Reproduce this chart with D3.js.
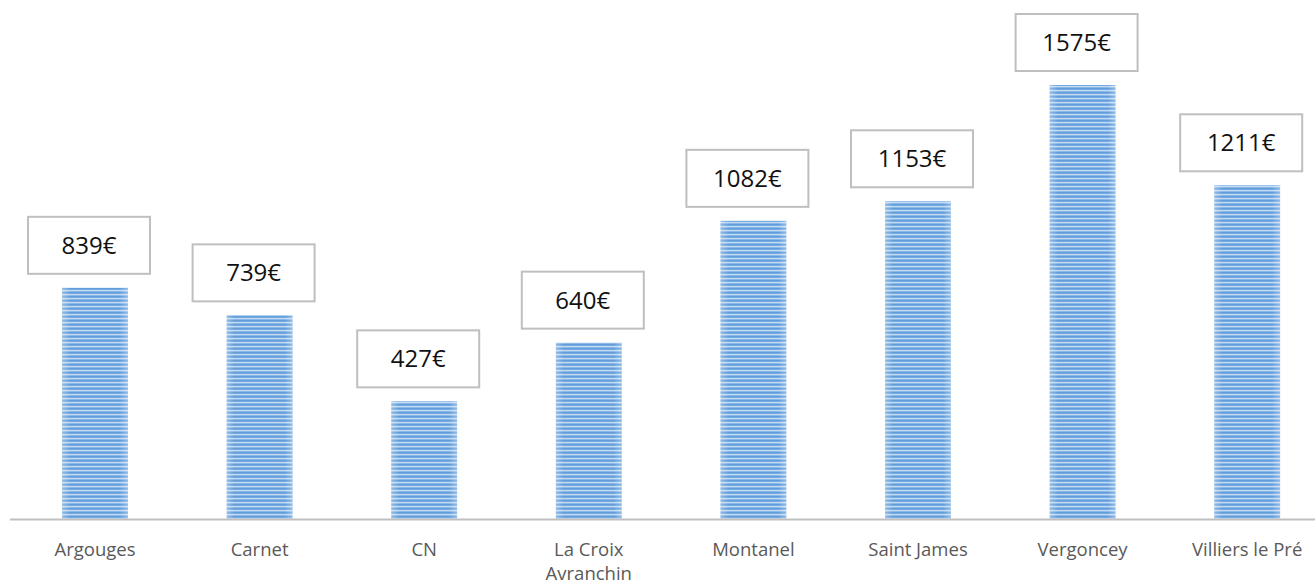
<!DOCTYPE html>
<html>
<head>
<meta charset="utf-8">
<script src="https://cdn.jsdelivr.net/npm/d3@7"></script>
<style>
  html, body { margin: 0; padding: 0; background: #fff; }
  svg { display: block; }
</style>
</head>
<body>
<svg id="chart" width="1315" height="584"></svg>
<script>
const categories = ["Argouges", "Carnet", "CN", "La Croix Avranchin", "Montanel", "Saint James", "Vergoncey", "Villiers le Pré"];
const values = [839, 739, 427, 640, 1082, 1153, 1575, 1211];
const valueLabels = ["839€", "739€", "427€", "640€", "1082€", "1153€", "1575€", "1211€"];

const W = 1315, H = 584;
const baseY = 519, topY = 85;
const svg = d3.select("#chart");

const x = d3.scaleBand()
  .domain(categories)
  .range([12.7, 1329.5])
  .paddingInner(0.6)
  .paddingOuter(0.3);

const y = d3.scaleLinear()
  .domain([0, d3.max(values)])
  .range([baseY, topY]);

// striped bar fill
const defs = svg.append("defs");
const pat = defs.append("pattern")
  .attr("id", "stripes")
  .attr("patternUnits", "userSpaceOnUse")
  .attr("width", 10).attr("height", 4);
pat.append("rect").attr("width", 10).attr("height", 4).attr("fill", "#74aae2");
pat.append("rect").attr("y", 0).attr("width", 10).attr("height", 1).attr("fill", "#639dd8");
pat.append("rect").attr("y", 2).attr("width", 10).attr("height", 1.3).attr("fill", "#c2daf3");

const grad = defs.append("linearGradient").attr("id", "edge").attr("x1", 0).attr("x2", 1).attr("y1", 0).attr("y2", 0);
grad.append("stop").attr("offset", "0%").attr("stop-color", "#ffffff").attr("stop-opacity", 0.3);
grad.append("stop").attr("offset", "12%").attr("stop-color", "#ffffff").attr("stop-opacity", 0);
grad.append("stop").attr("offset", "88%").attr("stop-color", "#ffffff").attr("stop-opacity", 0);
grad.append("stop").attr("offset", "100%").attr("stop-color", "#ffffff").attr("stop-opacity", 0.3);

const data = categories.map((c, i) => ({ c, v: values[i], lab: valueLabels[i] }));

const bars = svg.append("g");
bars.selectAll("rect.bar").data(data).join("rect")
  .attr("class", "bar")
  .attr("x", d => x(d.c))
  .attr("y", d => y(d.v))
  .attr("width", x.bandwidth())
  .attr("height", d => baseY - y(d.v))
  .attr("fill", "url(#stripes)");
bars.selectAll("rect.edge").data(data).join("rect")
  .attr("class", "edge")
  .attr("x", d => x(d.c))
  .attr("y", d => y(d.v))
  .attr("width", x.bandwidth())
  .attr("height", d => baseY - y(d.v))
  .attr("fill", "url(#edge)");

// axis line
svg.append("line")
  .attr("x1", 10).attr("x2", W)
  .attr("y1", baseY + 0.5).attr("y2", baseY + 0.5)
  .attr("stroke", "#bfbfbf").attr("stroke-width", 2);

// category labels
const xl = svg.append("g");
xl.selectAll("text").data(data).join("text")
  .attr("x", d => x(d.c) + x.bandwidth() / 2)
  .attr("y", 556)
  .attr("text-anchor", "middle")
  .attr("font-family", "'Open Sans', sans-serif")
  .attr("font-size", 18.5)
  .attr("fill", "#595959")
  .each(function(d) {
    const t = d3.select(this);
    const words = d.c === "La Croix Avranchin" ? ["La Croix", "Avranchin"] : [d.c];
    words.forEach((w, k) => {
      t.append("tspan")
        .attr("x", x(d.c) + x.bandwidth() / 2)
        .attr("dy", k === 0 ? 0 : 24)
        .text(w);
    });
  });

// value label boxes
const boxW = 122, boxH = 57, gap = 14, shift = -6;
const lg = svg.append("g");
const lab = lg.selectAll("g").data(data).join("g")
  .attr("transform", d => `translate(${x(d.c) + x.bandwidth() / 2 + shift},${y(d.v) - gap - boxH / 2})`);
lab.append("rect")
  .attr("x", -boxW / 2).attr("y", -boxH / 2)
  .attr("width", boxW).attr("height", boxH)
  .attr("fill", "#fff")
  .attr("stroke", "#bfbfbf").attr("stroke-width", 2);
lab.append("text")
  .attr("text-anchor", "middle")
  .attr("dy", "0.35em")
  .attr("font-family", "'Open Sans', sans-serif")
  .attr("font-size", 24)
  .attr("fill", "#111")
  .text(d => d.lab);
</script>
</body>
</html>
